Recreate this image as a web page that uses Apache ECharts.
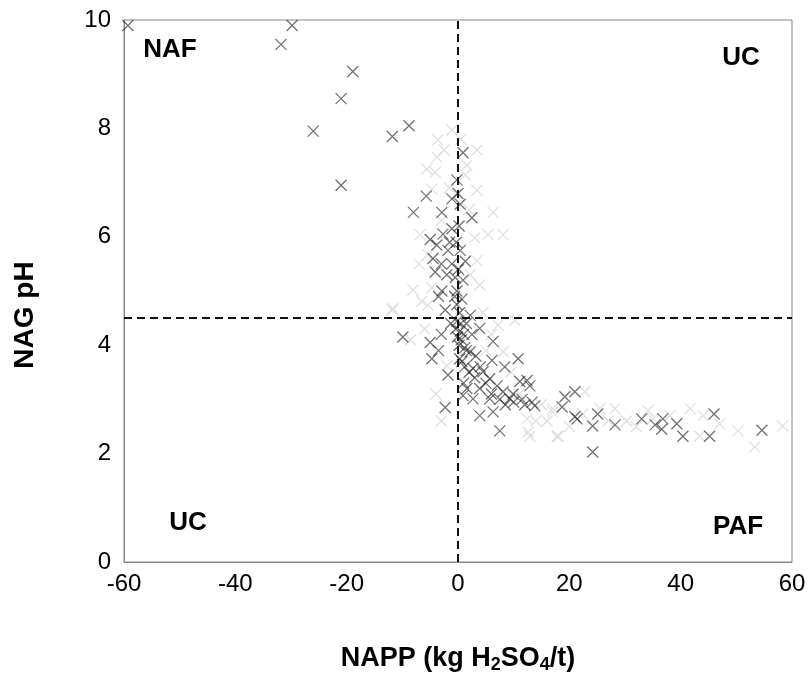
<!DOCTYPE html>
<html>
<head>
<meta charset="utf-8">
<title>NAG pH vs NAPP</title>
<script src="https://cdn.jsdelivr.net/npm/echarts@6/dist/echarts.min.js"></script>
<style>
  html, body { margin: 0; padding: 0; background: #fff; }
  #chart { width: 811px; height: 679px; }
</style>
</head>
<body>
<div id="chart"></div>
<script>
// 坐标轴刻度
const xTicks = [-60, -40, -20, 0, 20, 40, 60];
const yTicks = [0, 2, 4, 6, 8, 10];

// 分界线: NAPP = 0, NAG pH = 4.5
const nappCut = 0;
const phCut = 4.5;

const quadrantLabels = ['NAF', 'UC', 'UC', 'PAF'];

// 深色样本 [NAPP, NAG pH]
const darkPoints = [
    [-59.3, 9.9], [-29.8, 9.9], [-31.8, 9.55], [-18.9, 9.05], [-21, 8.55], [-26, 7.95],
    [-8.8, 8.05], [-11.8, 7.85], [-21, 6.95],
    [0.9, 7.55], [-0.2, 7.05], [0, 6.8], [-1.1, 6.7], [0.4, 6.6], [2.5, 6.35], [-2.9, 6.45],
    [-5.7, 6.75], [-8, 6.45], [-1.1, 6.15], [-2.7, 6.05], [-3.8, 5.85], [0.4, 5.75], [-1.8, 5.75],
    [1.3, 5.55], [-4.1, 5.35], [-1.1, 5.5], [-0.5, 5.25], [0.9, 5.2], [-2.9, 5.0], [-0.2, 5.0],
    [0.7, 4.85], [-2.3, 4.65], [-0.2, 4.75], [2.2, 4.55],
    [0.2, 6.2], [-0.3, 5.9], [0.1, 5.4], [-0.6, 4.9], [0.3, 4.6], [-1.5, 5.9], [-2, 5.3],
    [0.5, 4.4], [-0.4, 4.3], [1, 4.2], [0.2, 4.0], [-3.5, 4.9], [-1.3, 4.4], [-4.5, 5.6],
    [-3, 5.5], [-5, 5.95], [0.6, 4.1], [-0.1, 4.15], [1.2, 3.95], [0.3, 3.75],
    [-9.9, 4.15], [-4.7, 3.75], [-5, 4.05], [-1.8, 3.45], [-2.3, 2.85], [7.5, 2.42], [10.8, 3.75],
    [6.3, 4.07], [0.4, 4.26], [-0.2, 4.44], [3.9, 4.31], [2.2, 3.88], [0.7, 3.7], [2.7, 3.57],
    [4.5, 3.51], [5.7, 3.38], [7, 3.25], [8.1, 3.14], [9.3, 3.01], [3.9, 3.2], [1.6, 3.2],
    [0.9, 3.07], [2.7, 3.01], [5.7, 3.01], [6.3, 2.77], [3.9, 2.7], [12.9, 3.25], [13.3, 2.95],
    [13.8, 2.88], [12.4, 3.35], [18.7, 2.86], [19.2, 3.05], [21, 3.14], [21, 2.68], [6.1, 3.72],
    [8.4, 3.6], [11.1, 3.33], [9.9, 3.1],
    [1.5, 3.9], [1.2, 3.6], [3, 3.4], [4, 3.6], [5, 3.3], [6, 3.1], [7.5, 3.0], [8.5, 2.9],
    [10, 2.95], [11.5, 3.0], [12, 2.9], [3.2, 3.8], [2, 3.5], [1, 3.3], [-3, 4.2], [-3.5, 3.9],
    [2.5, 4.2], [1.5, 4.4],
    [21.4, 2.64], [25.1, 2.73], [24.2, 2.51], [24.2, 2.03], [28.2, 2.53], [33, 2.64], [35.4, 2.53],
    [36.8, 2.64], [36.6, 2.45], [39.3, 2.55], [40.4, 2.32], [45.2, 2.32], [46, 2.73], [54.6, 2.43]
];

// 浅色样本 [NAPP, NAG pH]
const lightPoints = [
    [-1.1, 7.97], [-3.6, 7.79], [3.4, 7.6], [-3.8, 7.47], [-5.6, 7.25], [-4.1, 7.19], [1.6, 7.32],
    [1.3, 7.14], [3.4, 6.86], [-4.7, 6.88], [6.3, 6.45], [-6.8, 6.04], [5.4, 6.04], [8.1, 6.04],
    [3, 5.98], [-5.4, 5.67], [3.4, 5.56], [2.2, 5.3], [-8.1, 5.02], [-4.7, 5.06], [3.9, 5.11],
    [-11.8, 4.65], [-5.4, 4.74], [-11.7, 4.68], [-6.5, 4.81], [10.2, 4.46], [7.2, 4.37], [8.1, 3.88],
    [12.4, 2.64], [12.9, 2.32], [17, 2.77], [17.8, 2.32], [-2, 3.62], [41.7, 2.83], [28.2, 2.83],
    [30.3, 2.6], [34.1, 2.79], [38.1, 2.7], [43.4, 2.32], [47, 2.55], [50.3, 2.42], [53.3, 2.12],
    [58.3, 2.51], [18, 2.32], [12.6, 2.4], [22.4, 2.73], [25.5, 2.83], [35, 2.64], [22.8, 3.14],
    [17, 2.83], [15, 2.9], [16, 2.6], [-2.5, 7.6], [0.5, 7.8], [-1.5, 6.9], [-3, 6.3], [2, 6.5],
    [-7, 5.5], [4.5, 4.6], [6, 4.2], [-6, 4.3], [-8.5, 4.1], [5, 3.9], [9.5, 3.5], [11, 3.1],
    [14, 2.6], [20, 2.5], [27, 2.6], [32, 2.5], [44, 2.7], [-4, 3.1], [-3, 2.6]
];

const FONT = '"Liberation Sans", Arial, sans-serif';
const CROSS = 'path://M0,0L10,10M10,0L0,10';

const chart = echarts.init(document.getElementById('chart'));

const quadText = (text, x, y) => ({
    type: 'text', x: x, y: y,
    style: { text: text, font: 'bold 26px ' + FONT, fill: '#000', align: 'center', verticalAlign: 'middle' }
});

chart.setOption({
    animation: false,
    grid: { left: 124, right: 19, top: 20, bottom: 117, show: true, borderColor: '#888', borderWidth: 1 },
    xAxis: {
        type: 'value',
        min: xTicks[0], max: xTicks[xTicks.length - 1], interval: 20,
        axisLine: { onZero: false, lineStyle: { color: '#888' } },
        axisTick: { show: false },
        splitLine: { show: false },
        axisLabel: { color: '#000', fontSize: 24, fontFamily: FONT, margin: 10 },
        name: '{a|NAPP (kg H}{s|2}{a|SO}{s|4}{a|/t)}',
        nameLocation: 'middle', nameGap: 82,
        nameTextStyle: {
            rich: {
                a: { fontSize: 27, fontWeight: 'bold', fontFamily: FONT, color: '#000' },
                s: { fontSize: 18, fontWeight: 'bold', fontFamily: FONT, color: '#000', padding: [12, 0, 0, 0] }
            }
        }
    },
    yAxis: {
        type: 'value',
        min: yTicks[0], max: yTicks[yTicks.length - 1], interval: 2,
        axisLine: { show: true, onZero: false, lineStyle: { color: '#888' } },
        axisTick: { show: false },
        splitLine: { show: false },
        axisLabel: { color: '#000', fontSize: 24, fontFamily: FONT, margin: 13 },
        name: 'NAG pH', nameLocation: 'middle', nameGap: 85,
        nameTextStyle: { fontSize: 28, fontWeight: 'bold', fontFamily: FONT, color: '#000', padding: [0, 48, 0, 0] }
    },
    graphic: [
        quadText(quadrantLabels[0], 170, 50),
        quadText(quadrantLabels[1], 741, 58),
        quadText(quadrantLabels[2], 188, 523),
        quadText(quadrantLabels[3], 738, 527)
    ],
    series: [
        {
            name: 'light', type: 'scatter', data: lightPoints,
            symbol: CROSS, symbolSize: 11,
            itemStyle: { color: 'transparent', borderColor: '#d8d8d8', borderWidth: 1.3 },
            markLine: {
                silent: true, symbol: 'none', label: { show: false },
                lineStyle: { color: '#111', type: [8, 5], width: 2 },
                data: [{ xAxis: nappCut }, { yAxis: phCut }]
            }
        },
        {
            name: 'dark', type: 'scatter', data: darkPoints,
            symbol: CROSS, symbolSize: 11,
            itemStyle: { color: 'transparent', borderColor: 'rgba(35,35,35,0.8)', borderWidth: 1.3 }
        }
    ]
});
</script>
</body>
</html>
